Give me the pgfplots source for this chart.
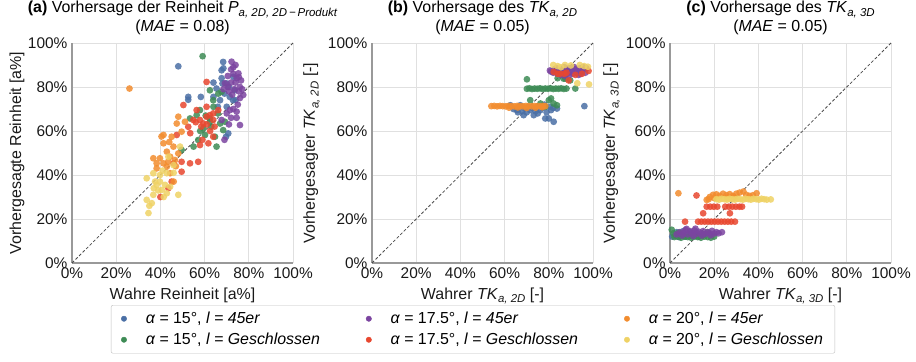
\documentclass[border=0pt]{standalone}
\usepackage{fontspec}
\setmainfont{Liberation Sans}
\usepackage{pgfplots}
\pgfplotsset{compat=1.18}

\definecolor{cBlue}{RGB}{74,111,165}
\definecolor{cGreen}{RGB}{61,139,85}
\definecolor{cPurple}{RGB}{123,68,160}
\definecolor{cRed}{RGB}{232,71,47}
\definecolor{cOrange}{RGB}{242,140,46}
\definecolor{cYellow}{RGB}{239,210,101}

\newcommand{\sub}[1]{\raisebox{-0.45ex}{\fontsize{11.5}{11.5}\selectfont\itshape #1}}
\newcommand{\lab}{\fontsize{16}{19}\selectfont}
\newcommand{\tck}{\fontsize{15.5}{18}\selectfont}

\pgfplotsset{
  pt/.style={only marks, mark=*, mark size=3.4bp, forget plot,
    mark options={fill=#1, draw opacity=0, fill opacity=0.85}},
  panel/.style={
    width=221bp, height=220bp, scale only axis,
    xmin=0, xmax=100, ymin=0, ymax=100,
    xtick={0,20,...,100}, ytick={0,20,...,100},
    xticklabels={0\%,20\%,40\%,60\%,80\%,100\%},
    yticklabels={0\%,20\%,40\%,60\%,80\%,100\%},
    major tick length=0pt,
    axis lines=left,
    axis line style={-, draw=black!40, line width=1.3pt},
    grid=major, grid style={black!12, line width=0.8pt},
    tick label style={font=\tck, text=black!90},
    xticklabel style={yshift=-1bp},
    yticklabel style={xshift=-1bp},
    label style={font=\lab, text=black!90},
    xlabel style={at={(axis description cs:0.5,-0.164)}, anchor=base},
    title style={font=\lab, align=center, at={(axis description cs:0.5,1)}, anchor=south, yshift=0bp, inner sep=2bp},
    clip=false,
  },
  diag/.style={black!70, line width=0.8pt, dash pattern=on 3pt off 2pt, forget plot},
}

\begin{document}
\begin{tikzpicture}
\path[use as bounding box] (0bp,0bp) rectangle (916bp,362bp);

% ---------------- (a) purity ----------------
\begin{axis}[panel, at={(72bp,99bp)}, anchor=south west,
  title={\textbf{(a)} Vorhersage der Reinheit \textit{P}\sub{a, 2D, 2D\,\textminus\,Produkt}\\(\textit{MAE} = 0.08)},
  xlabel={Wahre Reinheit [a\%]},
  ylabel={Vorhergesagte Reinheit [a\%]},
  ylabel style={at={(axis description cs:-0.249,0.5)}, anchor=center},
]
\addplot[pt=cBlue] coordinates {
(48.1,89.4)(52.6,75.5)(52.6,74.2)(58.3,75.5)(68.4,91.4)(67.7,87.6)(67.7,84)(68.1,81.6)
(64,82)(65.4,79.3)(71.4,75.5)(72.9,74)(70,71)(70.7,58.9)(69.7,57.4)(74,74)(69,77)
(73,84.6)(67,74)(71,80)(64,75.5)(70,81.6)(73.6,78.5)(66,71)(68.5,88.5)};
\addplot[pt=cGreen] coordinates {
(59.1,94)(62.4,78.5)(66.2,77)(57.9,69.5)(63.9,74)(53.4,65.7)(56.4,67.2)(64,71)
(65.4,52.9)(59.4,61.2)(62.4,64.2)(68.4,60.4)(67,63.4)(55,52.9)(49.6,51.4)(57.1,55.9)
(62.4,65.7)(64.7,57.4)(69.2,64.2)(60.2,58.2)(67.7,77.8)(60.5,67)(66,68)(58,60)(63,62)};
\addplot[pt=cPurple] coordinates {
(72.2,91.5)(73,89)(75.3,86.2)(76,80)(77.5,76.4)(69.2,81.7)(71.5,69.5)(74.5,68.8)
(76,62.7)(67.7,65)(73,86)(74.5,84)(72,82)(70.5,80)(73.5,79)(75.5,78)(72.5,76.5)
(71,78)(74,82)(76.5,83)(70.5,85)(72,88)(74,90)(75,72)(73,70)(70,68)(72,66)(74.5,66)
(71,63)(69,56)(76,75)(77,79)(68.5,79)(75.5,84.5)};
\addplot[pt=cRed] coordinates {
(60.9,82.3)(50.4,71.8)(47.4,58.2)(52.6,61.9)(54.9,65)(57.9,65)(60.9,66.5)(62.4,67.2)
(63.9,68)(59.4,63.4)(63.9,65)(57.9,53.6)(61.7,54.4)(63.9,57.4)(53.4,45.3)(57.1,46)
(49.6,46)(45.9,45.3)(49.6,41.5)(45.1,37)(43.6,34)(56.4,69.5)(60.9,71)(66.2,69.5)
(53.5,59)(61,63)(58.5,62)(62.5,60)(56,64)(64.5,62)(59,56)(40,30)};
\addplot[pt=cOrange] coordinates {
(26,79.3)(48.1,66.5)(47.4,63.4)(41.4,58.2)(45.1,57.4)(41.4,54.4)(42.9,50.6)(36.8,47.6)
(39.8,47.6)(44.4,48.3)(46.6,46.8)(42.9,43.8)(44.4,40.8)(38.3,43)(41.4,45.3)(48.1,49.8)
(45.9,52.9)(49.6,59.7)(51.1,64.2)(38.3,45.3)(40.5,57.5)(43.5,46)(47,44)(44,55)(46,37)};
\addplot[pt=cYellow] coordinates {
(33.8,38.5)(36.8,40.8)(39.8,40)(42.9,40.8)(42.1,35.5)(38.3,35.5)(40.6,33.2)(36.8,31)
(33.8,28.7)(36.1,27.2)(34.6,22.7)(42.9,31.7)(48.1,31)(45.9,44.5)(48.9,52.9)(43.6,48.3)
(37.6,37)(44.4,34.7)(39.8,37)(41,42)(39,33)(41.5,30)(37,34)(35,26)(46,41)};
\addplot[diag] coordinates {(0,0)(100,100)};
\end{axis}

% ---------------- (b) TK 2D ----------------
\begin{axis}[panel, at={(372bp,99bp)}, anchor=south west,
  title={\textbf{(b)} Vorhersage des \textit{TK}\sub{a, 2D}\\(\textit{MAE} = 0.05)},
  xlabel={Wahrer \textit{TK}\sub{a, 2D} [-]},
  ylabel={Vorhergesagter \textit{TK}\sub{a, 2D} [-]},
  ylabel style={at={(axis description cs:-0.273,0.5)}, anchor=center},
  legend columns=3,
  legend style={at={(axis description cs:0.457,-0.191)}, anchor=north,
    draw=black!25, rounded corners=2bp, fill=white,
    font=\fontsize{16}{19}\selectfont\itshape,
    inner xsep=10bp, inner ysep=5bp,
    row sep=4bp,
    cells={anchor=west},
    /tikz/every odd column/.append style={column sep=17bp},
    /tikz/every even column/.append style={column sep=44bp}},
  legend image code/.code={\fill[#1] (0bp,0bp) circle (2.7bp);},
]
\addplot[pt=cBlue] coordinates {
(62.6,71.7)(65.6,69.5)(67.1,71.7)(68.6,67.2)(71.6,69.5)(73.2,67.2)(74.7,71)(76.2,69.5)
(78.4,65.7)(80.7,71)(82.2,64.2)(83.7,70.2)(96.1,71.3)(80,65.7)(70,68.5)(72.5,70.5)
(66,68.5)(64,70)(69,70.5)(75,68)(77,70.5)(79,68.5)(81,69.5)(74,69)(68,69)(71,71)
(82,70.5)(78,72)};
\addplot[pt=cGreen] coordinates {
(70.1,79.2)(71.2,79.4)(72.4,79.1)(73.6,79.3)(74.8,79.2)(76,79.4)(77.2,79.1)(78.4,79.3)
(79.6,79.2)(80.8,79.4)(82,79.1)(83.2,79.3)(84.4,79.2)(85.6,79.4)(86.8,79.1)(88,79.3)
(70.1,83.5)(87.5,83.8)(92,79.3)(81,74.8)(80,74)(82.2,72.5)(83.7,71.7)(78.4,71)
(76.2,72.5)(71.6,74)(89.7,83)(86.7,83.8)(84,84)};
\addplot[pt=cPurple] coordinates {
(81,87)(82,86.5)(83,87.5)(84,86)(85,87)(86,88)(87,86.5)(88,87)(89,88.5)(90,87)(91,86)
(92,88)(93,87.5)(94,88.5)(95,87)(96,88)(97,88.5)(85.5,85.5)(87.5,85)(89.5,85.5)
(90.5,88.5)(92.5,86.5)(94.5,86)(86,86.5)(88.5,88)(83.5,88.5)(91.5,89)(93.5,85.5)
(96.5,86.5)(82.5,88)(84.5,87.5)(89,86.5)(95.5,89)(87,89)(80.5,87.5)};
\addplot[pt=cRed] coordinates {
(98,87.3)(89,83)(82.2,86.9)(85,86)(88,86.5)(92,85.5)(95,86)(84,86)(87,86)};
\addplot[pt=cOrange] coordinates {
(54,71.3)(55.3,71.4)(56.6,71.2)(57.9,71.4)(59.2,71.3)(60.5,71.2)(61.8,71.4)(63.1,71.3)
(64.4,71.2)(65.7,71.4)(67,71.3)(68.3,71.2)(69.6,71.4)(70.9,71.3)(72.2,71.2)(73.5,71.4)
(74.8,71.3)(76.1,71.2)(77.4,71.4)(78.4,71.3)(62,70.6)(66,70.7)(70,70.5)(74,70.6)(77,70.8)};
\addplot[pt=cYellow] coordinates {
(82,90)(87.3,90)(94,90)(97.7,89.2)(92.9,81.7)(98.2,81.2)(84,89.5)(90,89.8)(85.5,89)(96,89.5)};
\addplot[diag] coordinates {(0,0)(100,100)};
\addlegendimage{cBlue}
\addlegendentry{α = \textup{15°,} l = 45er}
\addlegendimage{cPurple}
\addlegendentry{α = \textup{17.5°,} l = 45er}
\addlegendimage{cOrange}
\addlegendentry{α = \textup{20°,} l = 45er}
\addlegendimage{cGreen}
\addlegendentry{α = \textup{15°,} l = Geschlossen}
\addlegendimage{cRed}
\addlegendentry{α = \textup{17.5°,} l = Geschlossen}
\addlegendimage{cYellow}
\addlegendentry{α = \textup{20°,} l = Geschlossen}
\end{axis}

% ---------------- (c) TK 3D ----------------
\begin{axis}[panel, at={(670bp,99bp)}, anchor=south west,
  title={\textbf{(c)} Vorhersage des \textit{TK}\sub{a, 3D}\\(\textit{MAE} = 0.05)},
  xlabel={Wahrer \textit{TK}\sub{a, 3D} [-]},
  ylabel={Vorhergesagter \textit{TK}\sub{a, 3D} [-]},
  ylabel style={at={(axis description cs:-0.264,0.5)}, anchor=center},
]
\addplot[pt=cBlue] coordinates {
(1,12)(2.5,12.5)(4,11.8)(5.5,12.5)(7,12)(8.5,13)(10,12.2)(11.5,12.8)(13,12)(14.5,12.5)
(6,14.5)(9,14)(12,14)(3,14)};
\addplot[pt=cGreen] coordinates {
(0.8,15.1)(1.5,13.5)(2,11.8)(3.5,12)(5,11.5)(6.5,12)(8,11.8)(9.5,11.5)(11,12)(12.5,11.8)
(14,11.5)(15.5,12)(17,11.8)(18.5,11.5)(20,12)(17,14)(15,13)(4,13.8)};
\addplot[pt=cPurple] coordinates {
(3,13)(4.5,14)(6,13.5)(7,15)(8,13)(9,14.5)(10,13.5)(11,14.8)(12,13.2)(13,14.2)(14,13.5)
(15,14.5)(16,13.2)(17,14)(18,13.5)(19,14.6)(20,13.4)(21,14)(22,13.5)(23.5,14)(5.5,12.5)
(10.5,12.3)(14.5,12.5)(18.5,12.6)(7.5,15.5)(11.5,15.6)};
\addplot[pt=cRed] coordinates {
(12,30.7)(6.8,18.8)(15,22.6)(27.1,22.6)
(16.6,25.6)(18.2,25.6)(19.8,25.6)(21.4,25.6)(25,25.6)(26.6,25.6)(28.2,25.6)(29.8,25.6)(31.4,25.6)(32.6,25.6)
(12.7,18.8)(14.2,18.8)(15.7,18.8)(17.2,18.8)(18.7,18.8)(20.2,18.8)(21.7,18.8)(23.2,18.8)
(24.7,18.8)(26.2,18.8)(27.7,18.8)(29.4,18.8)};
\addplot[pt=cOrange] coordinates {
(3.8,31.7)(16.6,28.7)(18,30)(19.5,31)(21,31.2)(22.5,30.5)(24,31.5)(25.5,30.8)(27,31.3)
(28.5,30.5)(30,31.5)(31.5,32)(33.2,32.5)(34.5,31)(36,30.5)(37.5,30.8)(39.2,31.7)
(17.5,29)(20,29.5)(26,29.8)(29,30)};
\addplot[pt=cYellow] coordinates {
(21,29)(22.2,28.8)(23.4,29.2)(24.6,29)(25.8,28.8)(27,29.2)(28.2,29)(29.4,28.8)(30.6,29.2)
(31.8,29)(33,28.8)(34.2,29.2)(35.4,29)(36.6,28.8)(37.8,29.2)(39,29)(40.2,28.8)(41.4,29.2)
(42.6,29)(43.8,28.8)(45.6,28.9)};
\addplot[diag] coordinates {(0,0)(100,100)};
\end{axis}
\end{tikzpicture}
\end{document}
